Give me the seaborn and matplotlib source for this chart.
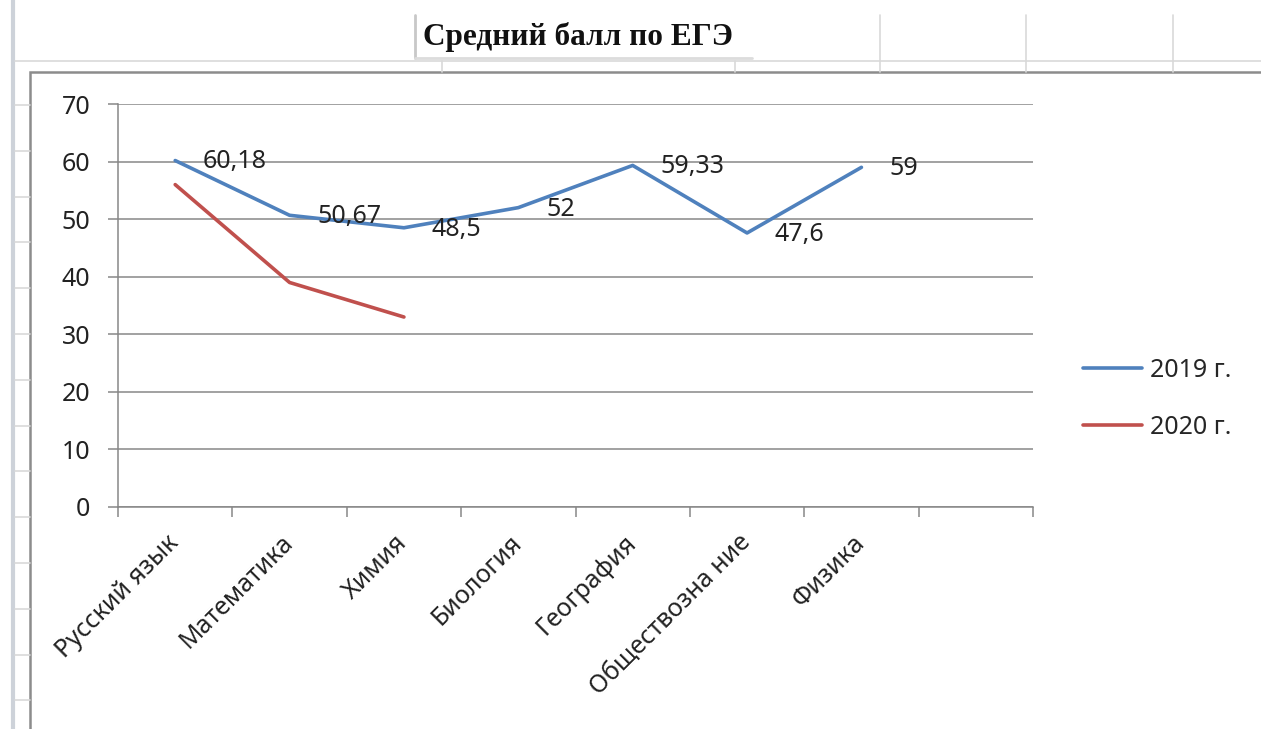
import matplotlib
matplotlib.use("Agg")
import matplotlib.pyplot as plt
import seaborn as sns
import pandas as pd
import numpy as np
from matplotlib.lines import Line2D
from matplotlib.patches import Rectangle

# data
subjects = ["Русский язык", "Математика", "Химия", "Биология", "География",
            "Обществозна ние", "Физика", ""]
scores_2019 = [60.18, 50.67, 48.5, 52, 59.33, 47.6, 59]
scores_2020 = [56, 39, 33]
years = ["2019 г.", "2020 г."]
colors = ["#4F81BD", "#C0504D"]

rows = []
for i, v in enumerate(scores_2019):
    rows.append({"idx": i, "score": v, "year": years[0]})
for i, v in enumerate(scores_2020):
    rows.append({"idx": i, "score": v, "year": years[1]})
df = pd.DataFrame(rows)

sns.set_style("white")
plt.rcParams["font.family"] = ["Noto Sans", "DejaVu Sans"]

W, H = 1261, 729
fig = plt.figure(figsize=(W / 100, H / 100), dpi=100)


def fx(x):
    return x / W


def fy(y):
    return 1 - y / H


# spreadsheet background lines
grid_c = "#d9d9d9"
fig.add_artist(Line2D([fx(13), fx(13)], [fy(0), fy(H)], color="#cdd2d9", lw=3))
fig.add_artist(Line2D([fx(15), fx(W)], [fy(61), fy(61)], color=grid_c, lw=1.2))
for y in np.arange(105, H, 45.8):
    fig.add_artist(Line2D([fx(15), fx(30)], [fy(y), fy(y)], color=grid_c, lw=1.2))
for x in [880, 1026, 1173]:
    fig.add_artist(Line2D([fx(x), fx(x)], [fy(15), fy(61)], color=grid_c, lw=1.2))
for x in [442, 735, 880, 1026, 1173]:
    fig.add_artist(Line2D([fx(x), fx(x)], [fy(61), fy(72)], color=grid_c, lw=1.2))
fig.add_artist(Line2D([fx(415), fx(415)], [fy(15), fy(58)], color="#c8c8c8", lw=2))
fig.add_artist(Line2D([fx(415), fx(752)], [fy(58), fy(58)], color="#dcdcdc", lw=2))
fig.text(fx(423), fy(37), "Средний балл по ЕГЭ", family="Liberation Serif",
         fontweight="bold", fontsize=22.5, va="center", ha="left", color="#111111")

# chart area border
fig.add_artist(Rectangle((fx(30), fy(H + 5)), fx(W), fy(72) - fy(H + 5),
                         fill=False, edgecolor="#8c8c8c", lw=1.8))

ax = fig.add_axes([fx(118), fy(507), fx(1033) - fx(118), fy(104) - fy(507)])
sns.lineplot(data=df, x="idx", y="score", hue="year", palette=colors,
             linewidth=2.6, ax=ax, legend=True)

ax.set_xlim(-0.5, 7.5)
ax.set_ylim(0, 70)
ax.set_xlabel("")
ax.set_ylabel("")

ax.set_yticks(np.arange(0, 71, 10))
ax.yaxis.grid(True, color="#878787", lw=1.1)
ax.set_axisbelow(True)
ax.tick_params(axis="y", length=7, width=1.1, color="#878787", left=True,
               labelsize=18, pad=13, labelcolor="#222222")

ax.set_xticks(np.arange(-0.5, 8, 1))
ax.set_xticklabels([])
ax.set_xticks(np.arange(len(subjects)), minor=True)
ax.set_xticklabels(subjects, minor=True, rotation=45, ha="right",
                   va="center", rotation_mode="anchor", fontsize=18,
                   color="#222222")
ax.tick_params(axis="x", which="major", length=7, width=1.1, color="#878787",
               bottom=True)
ax.tick_params(axis="x", which="minor", length=0, pad=23)

for s in ["top", "right"]:
    ax.spines[s].set_visible(False)
for s in ["left", "bottom"]:
    ax.spines[s].set_color("#878787")
    ax.spines[s].set_linewidth(1.1)

for i, v in enumerate(scores_2019):
    ax.annotate(f"{v:g}".replace(".", ","), (i, v), xytext=(20, -1),
                textcoords="offset points", ha="left", va="center",
                fontsize=18, color="#222222")

handles = [Line2D([0], [0], color=c, lw=2.6) for c in colors]
ax.legend(handles, years, loc="center left", bbox_to_anchor=(1.03, 0.268),
          frameon=False, fontsize=18, handlelength=2.35, handletextpad=0.35,
          labelspacing=1.3)

fig.savefig("out.png", dpi=100)
